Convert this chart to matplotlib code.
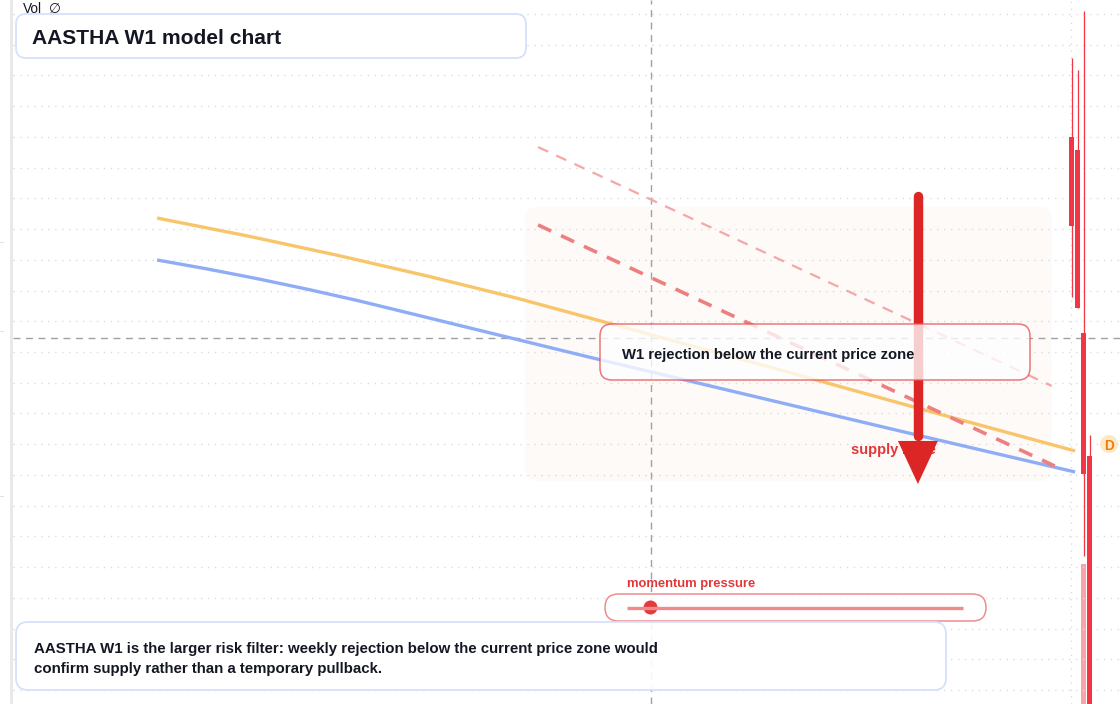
import numpy as np
import matplotlib
matplotlib.use("Agg")
import matplotlib.pyplot as plt
from matplotlib.patches import FancyBboxPatch, Rectangle, Circle, Polygon

plt.rcParams['font.family'] = ['Liberation Sans', 'DejaVu Sans']

W, H = 1120, 704

# ---------------- data ----------------
bar_index = [0, 1, 2, 3]
opens = [280.00, 279.15, 267.24, 259.23]
highs = [285.14, 284.36, 288.20, 260.60]
lows = [269.58, 268.86, 252.72, 241.50]
closes = [274.20, 268.86, 258.06, 242.00]
volumes = [np.nan, np.nan, 980.0, np.nan]

fast_bars = [-152.4, -137.4, -122.4, -107.4, -92.4, -76.6, -50.3, -23.6, 0.6]
fast_line = [274.72, 273.56, 272.30, 270.95, 269.50, 267.82, 265.02, 262.13, 259.56]
slow_bars = [-152.4, -144.1, -135.8, -127.4, -119.1, -110.8, -95.3, -80.3, -57.4, -25.8, 0.6]
slow_line = [271.99, 271.41, 270.78, 270.09, 269.36, 268.57, 267.09, 265.66, 263.53,
             260.60, 258.19]

upper_bars = [-88.9, -3.3]
upper_line = [279.34, 263.79]
lower_bars = [-88.9, -2.8]
lower_line = [274.27, 258.58]

zone_bars = [-91.1, -3.3]
zone_prices = [257.60, 275.44]

arrow_bar = -25.6
arrow_from = 276.15
arrow_to = 257.41

crosshair_bar = -70.1
crosshair_price = 266.91
time_grid_bar = -0.1

grid_prices = list(range(244, 289, 2))
momentum_value = 0.07

title = "AASTHA W1 model chart"
callout = "W1 rejection below the current price zone"
zone_label = "supply zone"
momentum_label = "momentum pressure"
note_lines = ["AASTHA W1 is the larger risk filter: weekly rejection below the current price zone would",
              "confirm supply rather than a temporary pullback."]

# ---------------- figure ----------------
fig = plt.figure(figsize=(W / 100, H / 100), dpi=100)
fig.patch.set_facecolor('white')

left_px = 13
px_per_bar = 6.0
ref_px = 1071.5
grid_px = 30.727
rect = [left_px / W, 0, 1 - left_px / W, 1]

ax_v = fig.add_axes(rect)
ax = fig.add_axes(rect, sharex=ax_v)
ax.set_zorder(2)
ax_v.set_zorder(1)
ax.patch.set_visible(False)

ax.set_xlim((left_px - ref_px) / px_per_bar, (W - ref_px) / px_per_bar)
ax.set_ylim(244 - 14 * 2 / grid_px, 244 + 690 * 2 / grid_px)

for a in (ax, ax_v):
    for s in a.spines.values():
        s.set_visible(False)
    a.tick_params(length=0, labelleft=False, labelbottom=False, labelright=False)

ax.set_yticks(grid_prices)
ax.set_xticks([time_grid_bar])
ax.grid(True, color='#dadce1', linestyle=(0, (1, 4)), linewidth=1.0)
ax.set_axisbelow(True)
ax_v.set_yticks([])

# volume
vmax = np.nanmax(volumes)
ax_v.set_ylim(0, vmax * 5.03)
ax_v.bar(bar_index, volumes, width=0.83, color='#f7a3a9', zorder=1)

# zone
ax.add_patch(FancyBboxPatch((zone_bars[0], zone_prices[0]), zone_bars[1] - zone_bars[0],
                            zone_prices[1] - zone_prices[0],
                            boxstyle="round,pad=0,rounding_size=2.0",
                            mutation_aspect=0.4,
                            facecolor='#fefaf8', edgecolor='none', zorder=0.5))

# crosshair
ax.axvline(crosshair_bar, color='#9ea1a8', lw=1.0, linestyle=(0, (5, 4)), zorder=1)
ax.axhline(crosshair_price, color='#9ea1a8', lw=1.0, linestyle=(0, (5, 4)), zorder=1)

# moving-average style lines
ax.plot(fast_bars, fast_line, color='#f9c56a', lw=2.4, zorder=3, solid_capstyle='butt',
        solid_joinstyle='round')
ax.plot(slow_bars, slow_line, color='#8fadf6', lw=2.4, zorder=3, solid_capstyle='butt',
        solid_joinstyle='round')

# dashed channel lines
ax.plot(upper_bars, upper_line, color='#f4a7a9', lw=1.6, linestyle=(0, (5, 4)), zorder=3)
ax.plot(lower_bars, lower_line, color='#ee7f80', lw=2.6, linestyle=(0, (4, 3)), zorder=3)

# supply zone label (under arrow)
ax.text(-36.7, 259.6, zone_label, color='#e0383a', fontsize=10.5, fontweight='bold',
        va='center', ha='left', zorder=4)

# arrow
head_len = 2.80
head_half = 3.33
ax.plot([arrow_bar, arrow_bar], [arrow_from, arrow_to + head_len + 0.3], color='#dc2626',
        lw=6.8, solid_capstyle='round', zorder=5)
ax.add_patch(Polygon([(arrow_bar - head_half, arrow_to + head_len),
                      (arrow_bar + head_half, arrow_to + head_len),
                      (arrow_bar, arrow_to)], closed=True, facecolor='#dc2626',
                     edgecolor='none', zorder=5))

# candles
body_low = [min(o, c) for o, c in zip(opens, closes)]
body_h = [abs(o - c) for o, c in zip(opens, closes)]
ax.vlines(bar_index, lows, highs, color='#f23645', lw=0.9, zorder=6)
ax.bar(bar_index, body_h, bottom=body_low, width=0.83, color='#f23645', zorder=7)

# ---------------- overlay (pixel space) ----------------
ov = fig.add_axes([0, 0, 1, 1])
ov.set_zorder(3)
ov.patch.set_visible(False)
ov.set_xlim(0, W)
ov.set_ylim(H, 0)
ov.axis('off')

ov.add_patch(Rectangle((10, 0), 3, H, facecolor='#e9e9ea', edgecolor='none'))
for yy in (242, 331, 496):
    ov.plot([0, 3], [yy, yy], color='#e3e3e3', lw=0.8)

ov.text(23, 9, "Vol", fontsize=9.8, color='#131722', va='center', ha='left')
ov.text(49, 9, "∅", fontsize=9.8, color='#131722', va='center', ha='left',
        family=['DejaVu Sans'])

# title box
ov.add_patch(FancyBboxPatch((16, 14), 510, 44, boxstyle="round,pad=0,rounding_size=10",
                            facecolor='white', edgecolor='#d5e2fa', lw=1.3))
ov.text(32, 38, title, fontsize=15.1, fontweight='bold', color='#131722',
        va='center', ha='left')

# callout box
ov.add_patch(FancyBboxPatch((600, 324), 430, 56, boxstyle="round,pad=0,rounding_size=12",
                            facecolor=(1, 1, 1, 0.78), edgecolor=(0.91, 0.33, 0.35, 0.8), lw=1.1))
ov.text(622, 355, callout, fontsize=10.75, fontweight='bold', color='#131722',
        va='center', ha='left')

# D marker
ov.add_patch(Circle((1109, 444), 9, facecolor='#fde8c8', edgecolor='none'))
ov.text(1109, 445.5, "D", fontsize=9.8, fontweight='bold', color='#f57c00',
        va='center', ha='center')

# momentum pill
ov.text(627, 583.5, momentum_label, fontsize=9.4, fontweight='bold', color='#e0383a',
        va='center', ha='left')
ov.add_patch(FancyBboxPatch((605, 594), 381, 27, boxstyle="round,pad=0,rounding_size=13.5",
                            facecolor=(1, 1, 1, 0.85), edgecolor='#ee8d8f', lw=1.1))
track_x0, track_x1 = 627, 963
ov.plot([track_x0, track_x1], [607.5, 607.5], color='#ef8a8c', lw=2.4, solid_capstyle='butt')
ov.add_patch(Circle((track_x0 + momentum_value * (track_x1 - track_x0), 607.5), 7,
                    facecolor='#e03b3d', edgecolor='none'))

# note box
ov.add_patch(FancyBboxPatch((16, 622), 930, 68, boxstyle="round,pad=0,rounding_size=12",
                            facecolor=(1, 1, 1, 0.9), edgecolor='#d5e2fa', lw=1.3))
ov.text(34, 649.5, note_lines[0], fontsize=10.85, fontweight='bold', color='#131722',
        va='center', ha='left')
ov.text(34, 669.5, note_lines[1], fontsize=10.85, fontweight='bold', color='#131722',
        va='center', ha='left')

fig.savefig("out.png", dpi=100, facecolor='white')
